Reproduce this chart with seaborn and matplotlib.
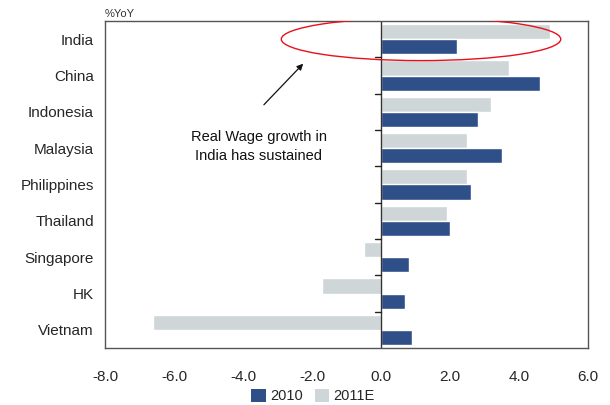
import matplotlib
matplotlib.use("Agg")
import matplotlib.pyplot as plt
import seaborn as sns
import pandas as pd
from matplotlib.patches import Ellipse, Patch

countries = ["India", "China", "Indonesia", "Malaysia", "Philippines", "Thailand", "Singapore", "HK", "Vietnam"]
wage_2010 = [2.2, 4.6, 2.8, 3.5, 2.6, 2.0, 0.8, 0.7, 0.9]
wage_2011e = [4.9, 3.7, 3.2, 2.5, 2.5, 1.9, -0.5, -1.7, -6.6]
series = ["2010", "2011E"]
xticks = [-8.0, -6.0, -4.0, -2.0, 0.0, 2.0, 4.0, 6.0]

c2010 = "#2F4F89"
c2011 = "#CFD6D8"

df = pd.DataFrame({
    "country": countries * 2,
    "value": wage_2011e + wage_2010,
    "series": ["2011E"] * len(countries) + ["2010"] * len(countries),
})

sns.set_style("white")
plt.rcParams["font.family"] = ["Liberation Sans", "DejaVu Sans"]

fig = plt.figure(figsize=(6.1, 4.05), dpi=100)
ax = fig.add_axes([105 / 610, 1 - 348 / 405, (588 - 105) / 610, (348 - 21) / 405])

sns.barplot(data=df, x="value", y="country", hue="series", order=countries,
            hue_order=["2011E", "2010"], palette={"2010": c2010, "2011E": c2011},
            orient="h", width=0.83, saturation=1, ax=ax, legend=False)

ax.set_xlim(-8, 6)
ax.set_ylim(len(countries) - 0.5, -0.5)
ax.set_xticks(xticks)
ax.set_xticklabels([f"{t:.1f}" for t in xticks], fontsize=11)
ax.tick_params(axis="x", length=0, pad=16)
ax.tick_params(axis="y", length=0, pad=8, labelsize=11)
ax.set_xlabel("")
ax.set_ylabel("")
for s in ax.spines.values():
    s.set_color("#555555")
    s.set_linewidth(1.0)

# zero line with category separators
ax.axvline(0, color="#333333", lw=1.0)
for i in range(len(countries) - 1):
    ax.plot([-0.17, 0], [i + 0.5, i + 0.5], color="#222222", lw=1.0)

fig.text(105 / 610, 1 - 14 / 405, "%YoY", fontsize=8, color="#333333", va="center", ha="left")

ell = Ellipse((1.16, 0.0), 8.1, 1.18, fill=False, edgecolor="#E8101A", lw=1.0, zorder=5)
ax.add_patch(ell)

ax.annotate("", xy=(-2.2, 0.62), xytext=(-3.45, 1.86),
            arrowprops=dict(arrowstyle="-|>", color="#111111", lw=0.9, mutation_scale=9))
ax.text(-3.55, 2.95, "Real Wage growth in\nIndia has sustained", ha="center", va="center",
        fontsize=10.5, color="#111111", linespacing=1.5)

handles = [Patch(facecolor=c2010, edgecolor="none"), Patch(facecolor=c2011, edgecolor="none")]
fig.legend(handles, series, loc="center", bbox_to_anchor=(313 / 610, 1 - 396 / 405), ncol=2,
           frameon=False, fontsize=10.5, handlelength=1.0, handleheight=1.0,
           handletextpad=0.3, columnspacing=0.8, borderaxespad=0)

fig.savefig("out.png", dpi=100)
